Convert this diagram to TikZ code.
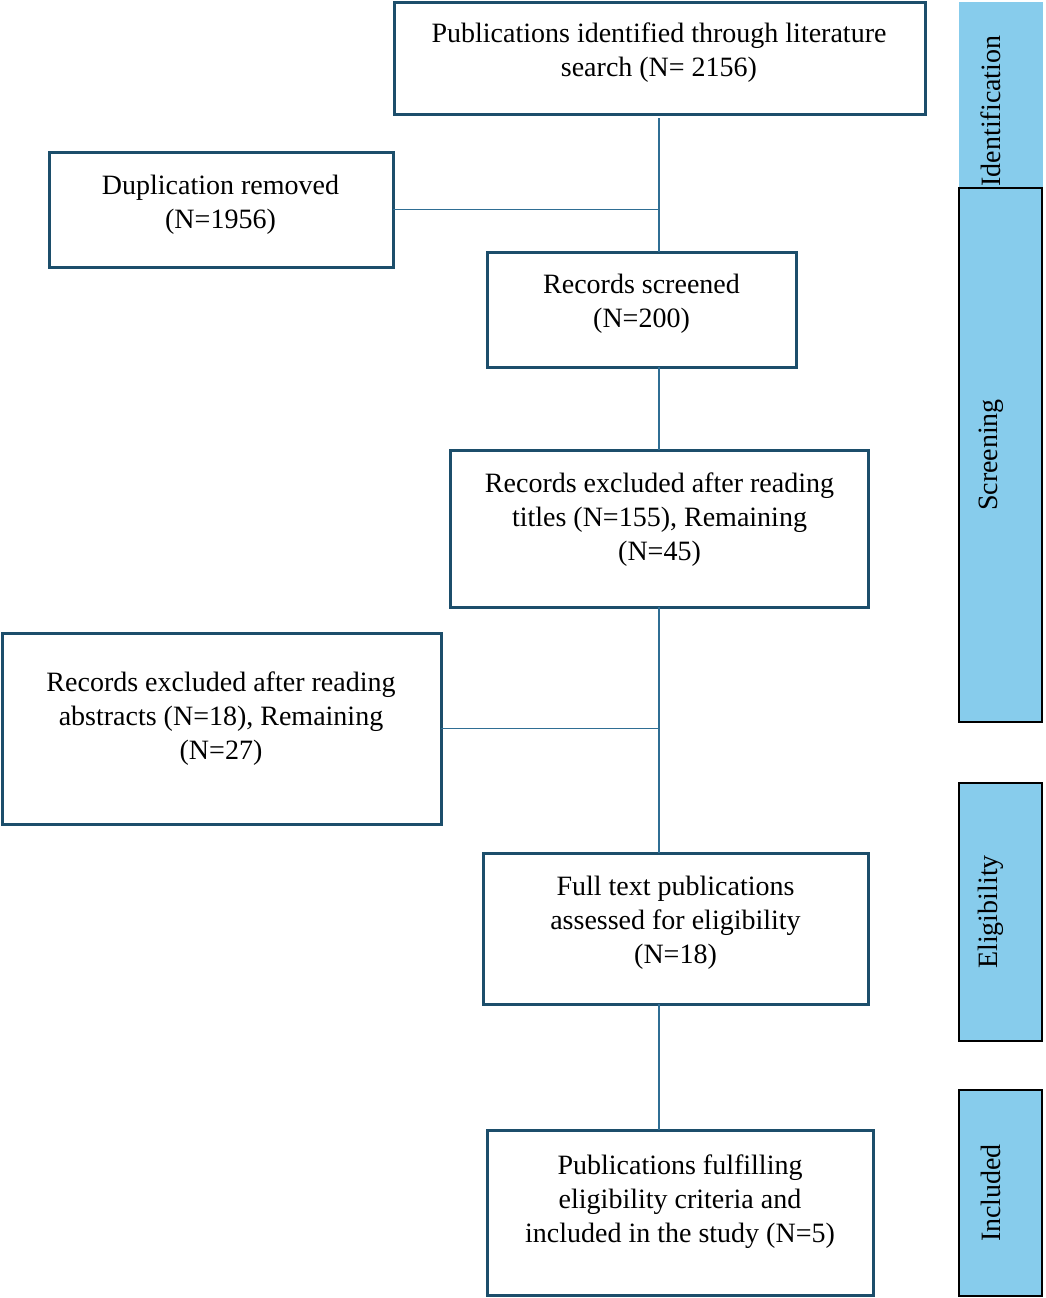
\documentclass[tikz,border=0pt]{standalone}
\usepackage{fontspec}
\setmainfont{Liberation Serif}
\definecolor{boxc}{HTML}{1C4E6B}
\definecolor{linec}{HTML}{2F6E94}
\definecolor{barc}{HTML}{87CCEC}
\begin{document}
\begin{tikzpicture}[x=1pt,y=-1pt,
  box/.style={draw=boxc,line width=3pt,rectangle,inner sep=0pt,outer sep=0pt},
  txt/.style={align=center,inner sep=0pt,font=\fontsize{28}{34}\selectfont},
  conn/.style={draw=linec,line width=1.6pt},
  bar/.style={fill=barc,draw=black,line width=1.8pt,rectangle,inner sep=0pt,outer sep=0pt},
  bartxt/.style={rotate=90,inner sep=0pt,font=\fontsize{28}{34}\selectfont}]
\useasboundingbox (0,0) rectangle (1045,1298);
% side bars
\node[rectangle,fill=barc,inner sep=0pt,minimum width=84pt,minimum height=218pt] (idbar) at (1001,111) {};
\node[bar,minimum width=83pt,minimum height=534pt] (scbar) at (1000.5,455) {};
\node[bar,minimum width=83pt,minimum height=258pt] (elbar) at (1000.5,912) {};
\node[bar,minimum width=83pt,minimum height=206pt] (inbar) at (1000.5,1193) {};
\node[bartxt] (idtxt) at (991,111) {Identification};
\node[bartxt] (sctxt) at (991,455) {Screening};
\node[bartxt] (eltxt) at (991,912) {Eligibility};
\node[bartxt] (intxt) at (991,1193) {Included};
% boxes
\node[box,minimum width=531pt,minimum height=111pt] (top) at (659.5,58.5) {};
\node[box,minimum width=344pt,minimum height=115pt] (dup) at (221,209.5) {};
\node[box,minimum width=309pt,minimum height=115pt] (scr) at (641.5,309.5) {};
\node[box,minimum width=418pt,minimum height=157pt] (tit) at (659,528.5) {};
\node[box,minimum width=439pt,minimum height=191pt] (abs) at (221.5,728.5) {};
\node[box,minimum width=385pt,minimum height=151pt] (ful) at (675.5,928.5) {};
\node[box,minimum width=386pt,minimum height=165pt] (inc) at (680,1212.5) {};
% texts
\node[txt] (toptxt) at (659,53) {Publications identified through literature\\search (N= 2156)};
\node[txt] (duptxt) at (220.5,204.5) {Duplication removed\\(N=1956)};
\node[txt] (scrtxt) at (641.5,304) {Records screened\\(N=200)};
\node[txt] (tittxt) at (659.5,520) {Records excluded after reading\\titles (N=155), Remaining\\(N=45)};
\node[txt] (abstxt) at (221,719) {Records excluded after reading\\abstracts (N=18), Remaining\\(N=27)};
\node[txt] (fultxt) at (675.5,923) {Full text publications\\assessed for eligibility\\(N=18)};
\node[txt] (inctxt) at (680,1202) {Publications fulfilling\\eligibility criteria and\\included in the study (N=5)};
% connectors
\draw[conn] ([yshift=-4pt]top.south -| tit.north) -- (tit.north |- scr.north);
\draw[conn] (dup.east) -- (dup.east -| tit.north);
\draw[conn] (scr.south -| tit.north) -- (tit.north);
\draw[conn] (tit.south) -- (tit.south |- ful.north);
\draw[conn] (abs.east) -- (abs.east -| tit.south);
\draw[conn] (ful.south -| tit.south) -- (tit.south |- inc.north);
\end{tikzpicture}
\end{document}
